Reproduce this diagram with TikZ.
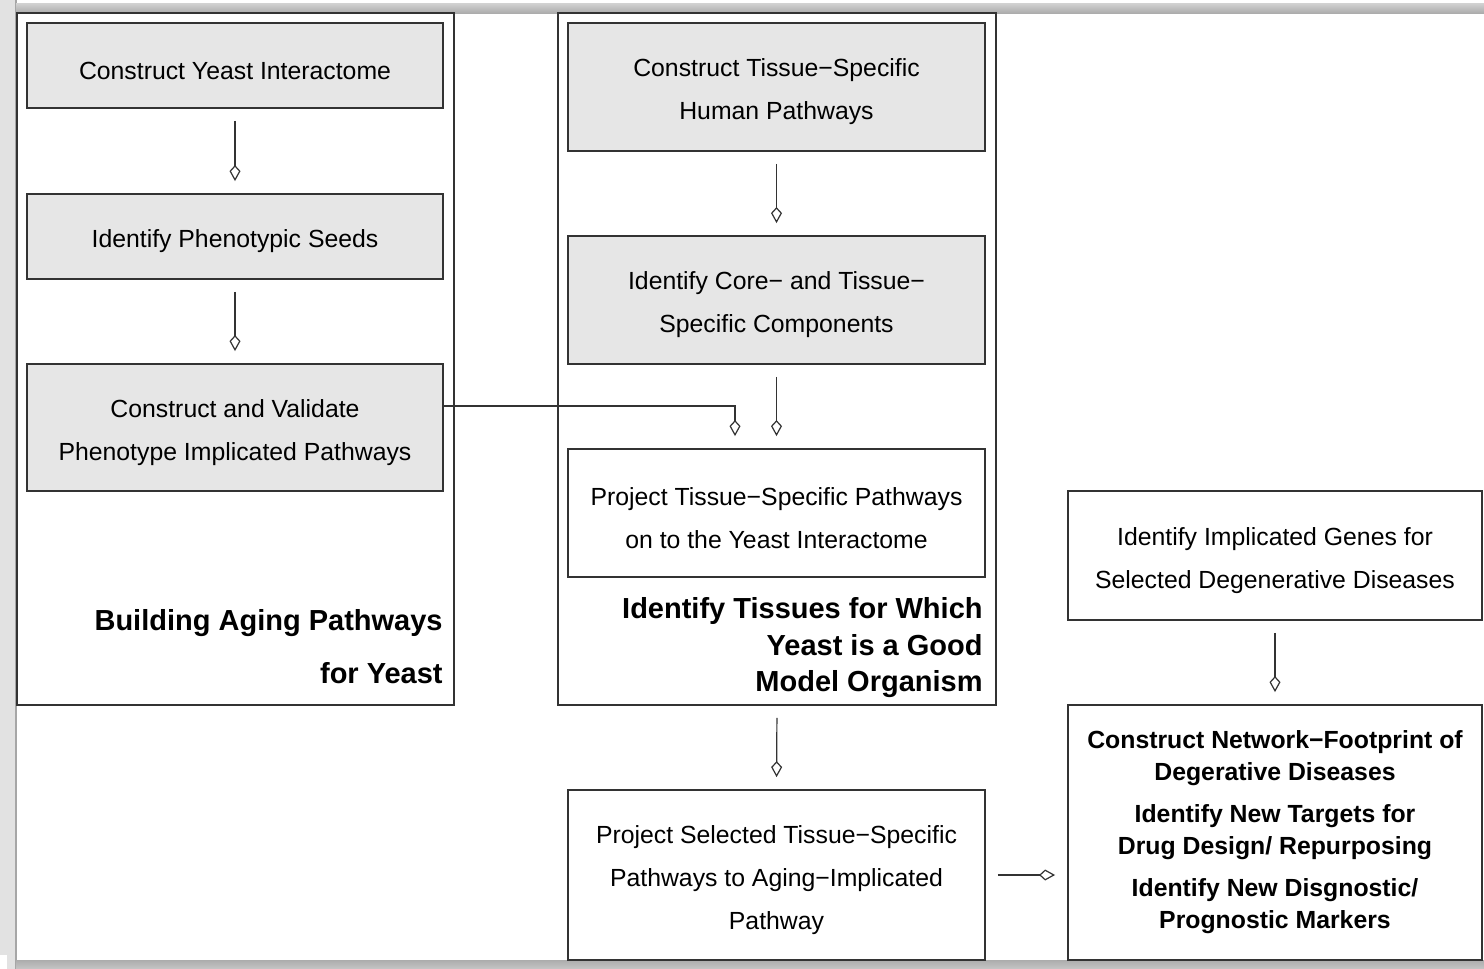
\documentclass[tikz,border=0pt]{standalone}
\usepackage{fontspec}
\setmainfont{Liberation Sans}
\usetikzlibrary{arrows.meta}
\definecolor{boxfill}{HTML}{E6E6E6}
\definecolor{edge}{HTML}{333333}
\definecolor{sideband}{HTML}{E2E2E2}
\tikzset{
  stepbox/.style={draw=edge, line width=0.9pt, fill=boxfill, minimum width=208pt, inner sep=0pt},
  plainbox/.style={stepbox, fill=white},
  boxtext/.style={align=center, font=\fontsize{12.4}{21.5}\selectfont, inner sep=0pt, yshift=-2.5pt},
  panel/.style={draw=edge, line width=0.9pt, inner sep=0pt},
  flow/.style={draw=edge, line width=0.6pt,
    -{Kite[open, length=8pt, width=5.5pt, inset=3pt]},
    shorten <=6pt, shorten >=6pt},
  paneltitle/.style={font=\bfseries\fontsize{14.5}{26.5}\selectfont, align=right,
    anchor=east, inner sep=0pt},
}
\begin{document}
\begin{tikzpicture}[x=0.5pt, y=-0.5pt]
\useasboundingbox (0,0) rectangle (1484,969);
\fill[white] (0,0) rectangle (1484,969);
% window frame bands
\fill[sideband] (0,0) rectangle (16,969);
\fill[white] (0,955) rectangle (7,969);
\fill[gray!70] (15,0) rectangle (16.5,969);
\shade[top color=gray!35, bottom color=gray!65] (16,3) rectangle (1484,13);
\shade[top color=gray!65, bottom color=gray!45] (16,960) rectangle (1484,969);

% panels
\node[panel, minimum width=218.5pt, minimum height=346pt] (lp) at (235.5,359) {};
\node[panel, minimum width=219pt, minimum height=346pt] (mp) at (777,359) {};

% yeast column
\node[stepbox, minimum height=42.5pt] (y1) at (235,65.5) {};
\node[boxtext] (y1t) at (y1) {Construct Yeast Interactome};
\node[stepbox, minimum height=42.5pt] (y2) at (235,236.5) {};
\node[boxtext] (y2t) at (y2) {Identify Phenotypic Seeds};
\node[stepbox, minimum height=63.5pt] (y3) at (235,427.5) {};
\node[boxtext] (y3t) at (y3) {Construct and Validate\\Phenotype Implicated Pathways};
\node[paneltitle] (lt) at (443,646.5) {Building Aging Pathways\\for Yeast};

% tissue column
\node[stepbox, minimum width=208.5pt, minimum height=64pt] (t1) at (776.5,87) {};
\node[boxtext] (t1t) at (t1) {Construct Tissue−Specific\\Human Pathways};
\node[stepbox, minimum width=208.5pt, minimum height=64pt] (t2) at (776.5,300) {};
\node[boxtext] (t2t) at (t2) {Identify Core− and Tissue−\\Specific Components};
\node[plainbox, minimum width=208.5pt, minimum height=64pt] (t3) at (776.5,513) {};
\node[boxtext] (t3t) at (t3) {Project Tissue−Specific Pathways\\on to the Yeast Interactome};
\node[paneltitle, font=\bfseries\fontsize{14.5}{18.25}\selectfont] (mt) at (983,648) {Identify Tissues for Which\\Yeast is a Good\\Model Organism};
\node[plainbox, minimum width=208.5pt, minimum height=85pt] (t4) at (776.5,875) {};
\node[boxtext] (t4t) at (t4) {Project Selected Tissue−Specific\\Pathways to Aging−Implicated\\Pathway};

% disease column
\node[plainbox, minimum width=207pt, minimum height=64.5pt] (d1) at (1275,555.5) {};
\node[boxtext] (d1t) at (d1) {Identify Implicated Genes for\\Selected Degenerative Diseases};
\node[plainbox, minimum width=207pt, minimum height=127.5pt] (d2) at (1275,832.5) {};
\node[boxtext, yshift=2.5pt, font=\bfseries\fontsize{12.4}{16}\selectfont] (d2t) at (d2)
  {Construct Network−Footprint of\\Degerative Diseases\\[5pt]Identify New Targets for\\Drug Design/ Repurposing\\[5pt]Identify New Disgnostic/\\Prognostic Markers};

% connectors
\draw[flow] (y1.south) -- (y2.north);
\draw[flow] (y2.south) -- (y3.north);
\draw[flow] (t1.south) -- (t2.north);
\draw[flow] (t2.south) -- (t3.north);
\draw[flow, shorten <=0pt] ([yshift=10.75pt]y3.east) -| ([xshift=-20.75pt]t3.north);
\draw[flow] (mp.south) -- (t4.north);
\draw[flow] (t4.east) -- (t4.east -| d2.west);
\draw[flow] (d1.south) -- (d2.north);
\end{tikzpicture}
\end{document}
